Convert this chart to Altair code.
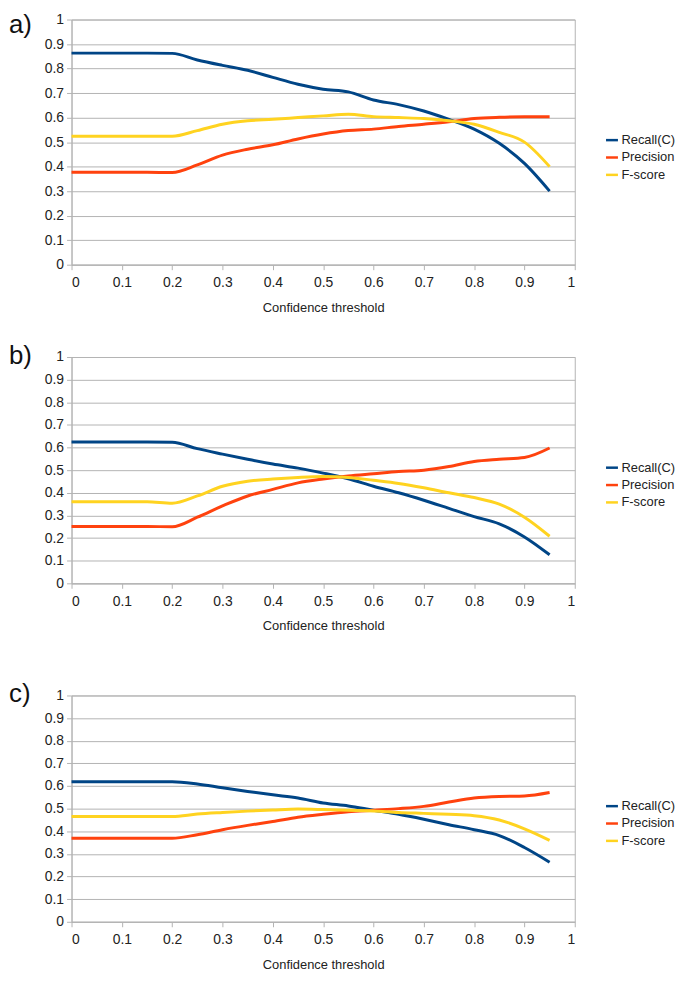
import altair as alt
import pandas as pd

thresholds = [0.0, 0.05, 0.1, 0.15, 0.2, 0.25, 0.3, 0.35, 0.4, 0.45,
              0.5, 0.55, 0.6, 0.65, 0.7, 0.75, 0.8, 0.85, 0.9, 0.95]

series_names = ["Recall(C)", "Precision", "F-score"]
series_colors = ["#004586", "#ff420e", "#ffd320"]

# panel a)
a_recall = [0.863, 0.863, 0.863, 0.863, 0.862, 0.835, 0.813, 0.793, 0.764, 0.736,
            0.716, 0.705, 0.672, 0.653, 0.627, 0.593, 0.553, 0.495, 0.413, 0.300]
a_precision = [0.377, 0.377, 0.377, 0.377, 0.376, 0.407, 0.447, 0.471, 0.489, 0.513,
               0.533, 0.547, 0.553, 0.564, 0.573, 0.583, 0.596, 0.601, 0.603, 0.603]
a_fscore = [0.524, 0.524, 0.524, 0.524, 0.524, 0.547, 0.573, 0.587, 0.593, 0.600,
            0.607, 0.614, 0.604, 0.600, 0.596, 0.587, 0.573, 0.540, 0.500, 0.400]

# panel b)
b_recall = [0.624, 0.624, 0.624, 0.624, 0.623, 0.595, 0.571, 0.548, 0.527, 0.509,
            0.487, 0.462, 0.429, 0.400, 0.367, 0.331, 0.295, 0.263, 0.205, 0.126]
b_precision = [0.251, 0.251, 0.251, 0.251, 0.250, 0.292, 0.342, 0.386, 0.415, 0.444,
               0.461, 0.474, 0.484, 0.494, 0.500, 0.516, 0.538, 0.548, 0.556, 0.598]
b_fscore = [0.360, 0.360, 0.360, 0.360, 0.354, 0.386, 0.429, 0.451, 0.461, 0.468,
            0.472, 0.468, 0.455, 0.441, 0.422, 0.400, 0.379, 0.350, 0.292, 0.208]

# panel c)
c_recall = [0.619, 0.619, 0.619, 0.619, 0.619, 0.609, 0.592, 0.576, 0.561, 0.547,
            0.525, 0.512, 0.493, 0.475, 0.453, 0.429, 0.407, 0.381, 0.328, 0.263]
c_precision = [0.369, 0.369, 0.369, 0.369, 0.369, 0.385, 0.407, 0.426, 0.443, 0.462,
               0.475, 0.486, 0.493, 0.500, 0.510, 0.529, 0.547, 0.554, 0.556, 0.571]
c_fscore = [0.465, 0.465, 0.465, 0.465, 0.465, 0.476, 0.483, 0.489, 0.494, 0.498,
            0.496, 0.493, 0.490, 0.483, 0.479, 0.475, 0.469, 0.450, 0.411, 0.360]

tick_values = [0, 0.1, 0.2, 0.3, 0.4, 0.5, 0.6, 0.7, 0.8, 0.9, 1]
x_title = "Confidence threshold"
panel_labels = ["a)", "b)", "c)"]

FONT = "Liberation Sans"


def long_df(recall, precision, fscore):
    rows = []
    for name, vals in zip(series_names, [recall, precision, fscore]):
        for t, v in zip(thresholds, vals):
            rows.append({"threshold": t, "value": v, "series": name})
    return pd.DataFrame(rows)


def panel(recall, precision, fscore, label, height, legend_y, label_y, label_baseline):
    df = long_df(recall, precision, fscore)
    lines = alt.Chart(df).mark_line(
        strokeWidth=3, interpolate="monotone"
    ).encode(
        x=alt.X("threshold:Q",
                scale=alt.Scale(domain=[0, 1], nice=False),
                axis=alt.Axis(values=tick_values, format="~g", title=x_title,
                              grid=False)),
        y=alt.Y("value:Q",
                scale=alt.Scale(domain=[0, 1], nice=False),
                axis=alt.Axis(values=tick_values, format="~g", title=None,
                              grid=True)),
        color=alt.Color("series:N",
                        scale=alt.Scale(domain=series_names, range=series_colors),
                        legend=alt.Legend(title=None, orient="none",
                                          legendX=537, legendY=legend_y,
                                          symbolType="stroke", symbolSize=144,
                                          symbolStrokeWidth=2.5,
                                          labelFontSize=13, labelFont=FONT,
                                          labelColor="#222222",
                                          labelOffset=2, rowPadding=2.5)),
        order=alt.Order("threshold:Q"),
    )
    lab = alt.Chart(pd.DataFrame({"label": [label]})).mark_text(
        fontSize=26, font=FONT, color="#111111", align="left",
        baseline=label_baseline
    ).encode(
        x=alt.value(-63), y=alt.value(label_y), text="label:N"
    )
    return alt.layer(lines, lab).properties(width=507, height=height)


pa = panel(a_recall, a_precision, a_fscore, panel_labels[0], 247, 114, -7, "top")
pb = panel(b_recall, b_precision, b_fscore, panel_labels[1], 228, 104, -1, "middle")
pc = panel(c_recall, c_precision, c_fscore, panel_labels[2], 228, 104, -1, "middle")

inner = alt.vconcat(pa, pb, spacing=27).resolve_legend(color="independent")
chart = alt.vconcat(inner, pc, spacing=47).resolve_legend(
    color="independent"
).properties(
    padding={"left": 0, "top": 0, "right": 0, "bottom": 0}
).configure_view(
    stroke="#b3b3b3", strokeWidth=1
).configure_axis(
    domainColor="#b3b3b3", tickColor="#b3b3b3", gridColor="#b3b3b3",
    tickSize=5, labelFont=FONT, labelFontSize=14, labelColor="#222222",
    titleFont=FONT, titleFontSize=13, titleFontWeight="normal",
    titleColor="#222222"
).configure_axisX(
    labelPadding=6, titlePadding=12
).configure_axisY(
    labelPadding=3
)

chart.save("out.html", embed_options={"renderer": "svg", "actions": False})
